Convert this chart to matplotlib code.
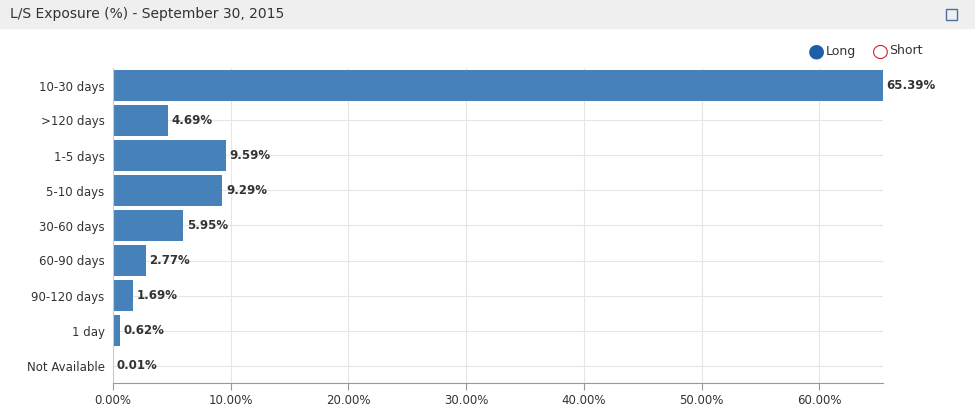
import matplotlib.pyplot as plt
from matplotlib.patches import Rectangle

categories = ['10-30 days', '>120 days', '1-5 days', '5-10 days', '30-60 days',
              '60-90 days', '90-120 days', '1 day', 'Not Available']
long_values = [65.39, 4.69, 9.59, 9.29, 5.95, 2.77, 1.69, 0.62, 0.01]
x_ticks = [0, 10, 20, 30, 40, 50, 60]

W, H = 975, 411
fig = plt.figure(figsize=(W / 100, H / 100), dpi=100)

# header bar
fig.patches.append(Rectangle((0, 1 - 28 / H), 1, 28 / H, transform=fig.transFigure,
                             color='#efefef', zorder=0))
fig.text(10 / W, 1 - 14 / H, 'L/S Exposure (%) - September 30, 2015', fontsize=10,
         color='#333333', va='center')
fig.patches.append(Rectangle((946 / W, 1 - 20 / H), 11 / W, 11 / H, transform=fig.transFigure,
                             fill=False, edgecolor='#4a6fa5', lw=1))

ax = fig.add_axes([113 / W, 1 - 383 / H, (883 - 113) / W, (383 - 68) / H])
y = list(range(len(categories)))
ax.barh(y, long_values, height=0.88, color='#4682b9', zorder=2)
for yi, v in zip(y, long_values):
    ax.text(v + 0.3, yi, f'{v:.2f}%', va='center', fontsize=8.5, fontweight='bold',
            color='#333333')
ax.set_ylim(len(categories) - 0.5, -0.5)
ax.set_xlim(0, 65.4)
ax.set_yticks(y)
ax.set_yticklabels(categories, fontsize=8.5, color='#333333')
ax.set_xticks(x_ticks)
ax.set_xticklabels([f'{t:.2f}%' for t in x_ticks], fontsize=8.5, color='#333333')
ax.grid(True, color='#e6e6e6', lw=0.8, zorder=0)
ax.tick_params(length=0, pad=6)
ax.tick_params(axis='x', length=5, color='#999999', pad=3)
for s in ['top', 'right']:
    ax.spines[s].set_visible(False)
ax.spines['left'].set_color('#cccccc')
ax.spines['bottom'].set_color('#999999')

# legend
fig.text(816 / W, 1 - 51 / H, '●', fontsize=14, color='#1f5fa8', ha='center', va='center')
fig.text(826 / W, 1 - 51 / H, 'Long', fontsize=9, color='#333333', va='center')
fig.text(880 / W, 1 - 51 / H, '○', fontsize=14, color='#cc2222', ha='center', va='center')
fig.text(889 / W, 1 - 51 / H, 'Short', fontsize=9, color='#333333', va='center')

fig.savefig('out.png', dpi=100)
